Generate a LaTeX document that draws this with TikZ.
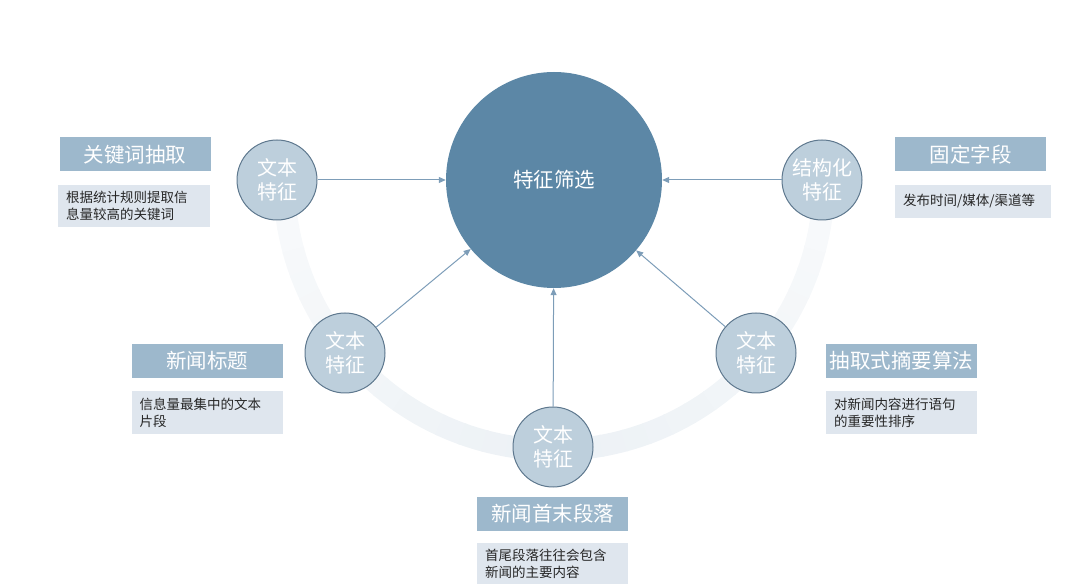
\documentclass[tikz,border=0pt]{standalone}
\usepackage{fontspec}
\setmainfont{Noto Sans CJK SC}
\usetikzlibrary{arrows.meta,positioning}
\definecolor{hubBlue}{RGB}{92,135,166}
\definecolor{featFill}{RGB}{189,207,220}
\definecolor{featLine}{RGB}{94,120,142}
\definecolor{ttlBlue}{RGB}{157,184,204}
\definecolor{descGray}{RGB}{223,230,238}
\definecolor{linkBlue}{RGB}{125,157,184}
\definecolor{bandGray}{RGB}{236,241,245}

\begin{document}
\begin{tikzpicture}[x=1pt,y=1pt,
    hub/.style={circle,fill=hubBlue,minimum size=216pt,inner sep=0pt,
                text=white,font=\fontsize{20.5}{24}\selectfont},
    feat/.style={circle,draw=featLine,line width=1pt,fill=featFill,
                 minimum size=80pt,inner sep=0pt,align=center,text=white,
                 font=\fontsize{20}{24}\selectfont},
    ttl/.style={fill=ttlBlue,minimum width=151pt,minimum height=34pt,
                inner sep=0pt,text=white,font=\fontsize{20.5}{24}\selectfont},
    desc/.style={fill=descGray,text width=135pt,inner xsep=8pt,inner ysep=0pt,
                 minimum height=42pt,align=left,text=black!85,
                 font=\fontsize{13.5}{17}\selectfont},
    link/.style={-{Triangle[length=7pt,width=6pt]},linkBlue,line width=1pt}]

    \useasboundingbox (0,0) rectangle (1080,587);

    % background band, fading towards the top
    \foreach \a in {180,185,...,355} {
      \pgfmathsetmacro{\p}{100-65*abs(\a+2.5-270)/90}
      \draw[bandGray!\p!white,line width=22pt]
        ({554+270*cos(\a)},{407+270*sin(\a)}) arc[start angle=\a,end angle=\a+5.4,radius=270];
    }

    % hub
    \node[hub] (sel) at (554,407) {特征筛选};

    % feature circles
    \node[feat] (t1) at (277,407) {文本\\特征};
    \node[feat] (s1) at (822,407) {结构化\\特征};
    \node[feat] (t2) at (345,234) {文本\\特征};
    \node[feat] (t3) at (756,234) {文本\\特征};
    \node[feat] (t4) at (553,140) {文本\\特征};

    \foreach \f in {t1,s1,t2,t3,t4} {
      \draw[link] (\f) -- (sel);
    }

    % keyword extraction
    \node[ttl] (kwT) at (135,432.5) {关键词抽取};
    \node[desc,text width=136pt] (kwD) at (134,381) {根据统计规则提取信\\息量较高的关键词};

    % fixed fields
    \node[ttl] (fxT) at (970.5,432.5) {固定字段};
    \node[desc,text width=140pt,minimum height=33pt] (fxD) at (973,385.5) {发布时间/媒体/渠道等};

    % news title
    \node[ttl] (nwT) at (207,226) {新闻标题};
    \node[desc,minimum height=43pt] (nwD) at (207,174.5) {信息量最集中的文本\\片段};

    % extractive summary
    \node[ttl] (exT) at (901.5,226) {抽取式摘要算法};
    \node[desc,minimum height=43pt] (exD) at (901.5,174.5) {对新闻内容进行语句\\的重要性排序};

    % first and last paragraphs
    \node[ttl] (pgT) at (552.5,73) {新闻首末段落};
    \node[desc,minimum height=41pt] (pgD) at (552.5,23.5) {首尾段落往往会包含\\新闻的主要内容};
\end{tikzpicture}
\end{document}
